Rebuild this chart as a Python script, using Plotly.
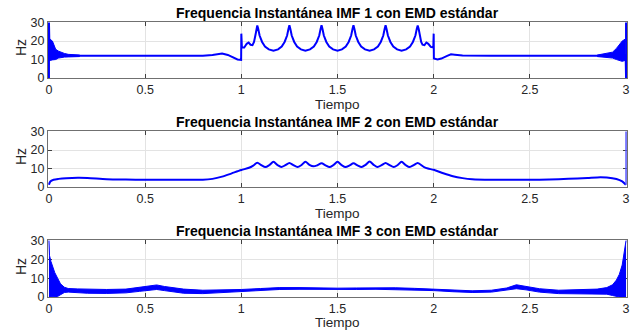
import plotly.graph_objects as go

# ---------------- data ----------------
x_ticks = [0, 0.5, 1, 1.5, 2, 2.5, 3]
x_tick_labels = ["0", "0.5", "1", "1.5", "2", "2.5", "3"]
y_ticks = [0, 10, 20, 30]
y_tick_labels = ["0", "10", "20", "30"]

titles = ["Frequencia Instantánea IMF 1 con EMD estándar",
          "Frequencia Instantánea IMF 2 con EMD estándar",
          "Frequencia Instantánea IMF 3 con EMD estándar"]

# IMF 1 main line
imf1_t = [0.000, 0.000, 0.003, 0.020, 0.050, 0.100, 0.200, 0.300, 0.400, 0.500, 0.600, 0.700, 0.800,
          0.850, 0.900, 0.930, 0.960, 0.980, 0.999, 1.000, 1.003, 1.015, 1.028, 1.038, 1.048, 1.058,
          1.066, 1.073, 1.078, 1.083, 1.088, 1.095, 1.108, 1.123, 1.143, 1.167, 1.191, 1.210, 1.225,
          1.238, 1.245, 1.250, 1.255, 1.262, 1.275, 1.290, 1.310, 1.333, 1.357, 1.377, 1.392, 1.405,
          1.412, 1.417, 1.422, 1.429, 1.442, 1.457, 1.477, 1.500, 1.523, 1.543, 1.558, 1.571, 1.578,
          1.583, 1.588, 1.595, 1.608, 1.623, 1.643, 1.667, 1.690, 1.710, 1.725, 1.738, 1.745, 1.750,
          1.755, 1.762, 1.775, 1.790, 1.810, 1.833, 1.857, 1.877, 1.892, 1.905, 1.912, 1.917, 1.922,
          1.928, 1.935, 1.942, 1.952, 1.962, 1.972, 1.985, 1.998, 2.000, 2.001, 2.020, 2.040, 2.070,
          2.090, 2.110, 2.150, 2.300, 2.500, 2.700, 2.850, 2.900, 2.950, 2.998, 3.000, 3.000]
imf1_f = [0.0, 30.0, 14.0, 13.0, 12.4, 12.0, 12.0, 11.9, 12.0, 12.0, 11.9, 12.0, 12.1,
          12.4, 13.2, 12.5, 10.8, 10.0, 9.8, 24.0, 16.5, 16.5, 18.5, 19.2, 18.0, 17.8,
          19.5, 23.0, 26.5, 28.4, 26.5, 23.0, 19.5, 17.0, 15.5, 14.8, 15.5, 17.0, 19.5,
          23.0, 26.5, 28.6, 26.5, 23.0, 19.5, 17.0, 15.5, 14.8, 15.5, 17.0, 19.5, 23.0,
          26.5, 28.6, 26.5, 23.0, 19.5, 17.0, 15.5, 14.8, 15.5, 17.0, 19.5, 23.0, 26.5,
          28.6, 26.5, 23.0, 19.5, 17.0, 15.5, 14.8, 15.5, 17.0, 19.5, 23.0, 26.5, 28.6,
          26.5, 23.0, 19.5, 17.0, 15.5, 14.8, 15.5, 17.0, 19.5, 23.0, 26.5, 28.4, 26.5,
          23.0, 19.5, 18.0, 17.8, 19.2, 18.5, 16.8, 16.5, 24.0, 10.5, 10.0, 10.5, 12.0,
          12.8, 12.6, 12.2, 12.0, 12.0, 12.0, 12.1, 12.3, 12.0, 12.0, 0.0, 30.0]

# IMF 1 oscillation envelopes at the edges
imf1_band_left_t = [0.000, 0.005, 0.018, 0.035, 0.050, 0.065, 0.080, 0.100, 0.130, 0.160]
imf1_band_left_hi = [22.0, 21.0, 20.0, 15.5, 14.5, 13.8, 13.3, 12.8, 12.6, 12.4]
imf1_band_left_lo = [9.0, 9.5, 9.8, 10.0, 10.8, 11.2, 11.3, 11.4, 11.5, 11.6]
imf1_band_right_t = [2.850, 2.900, 2.930, 2.950, 2.965, 2.980, 2.995]
imf1_band_right_hi = [12.4, 13.3, 14.0, 16.0, 18.0, 20.0, 21.0]
imf1_band_right_lo = [11.6, 11.2, 10.8, 10.0, 9.5, 9.0, 9.5]

# IMF 2 main line
imf2_t = [0.000, 0.007, 0.024, 0.050, 0.090, 0.150, 0.200, 0.300, 0.400, 0.500, 0.600, 0.700, 0.800,
          0.850, 0.900, 0.950, 1.000, 1.040, 1.062, 1.083, 1.104, 1.125, 1.146, 1.167, 1.188, 1.208,
          1.229, 1.250, 1.271, 1.292, 1.313, 1.333, 1.354, 1.375, 1.396, 1.417, 1.438, 1.458, 1.479,
          1.500, 1.521, 1.542, 1.563, 1.583, 1.604, 1.625, 1.646, 1.667, 1.688, 1.708, 1.729, 1.750,
          1.771, 1.792, 1.813, 1.833, 1.854, 1.875, 1.896, 1.917, 1.950, 1.970, 2.000, 2.050, 2.100,
          2.150, 2.200, 2.300, 2.400, 2.500, 2.600, 2.700, 2.800, 2.850, 2.900, 2.950, 2.980, 2.999]
imf2_f = [1.2, 3.0, 3.9, 4.4, 4.8, 5.0, 4.9, 4.2, 4.0, 3.9, 3.9, 3.9, 3.9,
          4.4, 5.6, 7.4, 9.2, 10.4, 11.6, 13.1, 11.8, 10.8, 11.9, 13.6, 11.9, 10.8,
          11.8, 13.0, 11.8, 10.8, 11.9, 13.6, 12.0, 11.2, 11.8, 12.8, 11.7, 10.8, 11.9,
          13.6, 11.9, 10.8, 11.7, 12.8, 11.7, 10.8, 12.0, 13.8, 12.0, 10.8, 11.8, 13.0,
          11.8, 10.8, 11.9, 13.6, 11.9, 10.8, 11.8, 13.0, 10.8, 10.0, 9.3, 7.4, 5.8,
          4.8, 4.2, 3.9, 3.9, 3.9, 4.1, 4.4, 4.9, 5.2, 5.1, 4.3, 3.0, 1.2]
# thin end spike of IMF 2 at t = 3
imf2_end_t = [3.000, 3.000]
imf2_end_f = [1.2, 30.0]

# IMF 3 oscillation envelope
imf3_t = [0.000, 0.003, 0.010, 0.020, 0.030, 0.045, 0.060, 0.080, 0.100, 0.150, 0.200, 0.300,
          0.400, 0.470, 0.530, 0.560, 0.600, 0.650, 0.700, 0.800, 0.900, 1.000, 1.100, 1.200,
          1.300, 1.400, 1.500, 1.600, 1.700, 1.800, 1.900, 2.000, 2.100, 2.200, 2.300, 2.380,
          2.430, 2.480, 2.550, 2.650, 2.750, 2.850, 2.900, 2.930, 2.950, 2.965, 2.980, 2.990,
          3.000]
imf3_hi = [30.0, 22.0, 19.0, 16.0, 13.0, 10.0, 7.0, 5.2, 4.5, 4.3, 4.2, 4.0,
           4.2, 5.0, 6.0, 6.4, 5.6, 4.8, 4.2, 3.6, 3.6, 4.0, 4.5, 5.0,
           5.0, 4.8, 4.7, 4.8, 5.0, 4.9, 4.6, 4.2, 3.6, 3.3, 3.6, 4.8,
           6.5, 5.6, 4.4, 3.6, 3.8, 4.2, 5.0, 6.5, 9.0, 12.0, 17.0, 23.0,
           30.0]
imf3_lo = [0.0, 0.0, 0.0, 0.0, 0.0, 0.3, 1.2, 2.4, 2.6, 2.3, 2.0, 1.9,
           2.2, 3.0, 3.8, 4.0, 3.4, 2.6, 2.0, 1.8, 2.4, 3.0, 3.6, 4.0,
           4.1, 4.0, 3.9, 4.0, 4.1, 4.0, 3.8, 3.4, 2.8, 2.4, 2.6, 3.5,
           4.4, 3.8, 2.6, 1.8, 1.8, 1.8, 1.5, 0.8, 0.3, 0.0, 0.0, 0.0,
           0.0]

# ---------------- figure ----------------
W, H = 634, 330
BLUE = "#0000ff"
FONT = "Liberation Sans, Arial, sans-serif"

AX_L, AX_R, AX_T, AX_B = 48, 627, 22, 297      # plot area in pixels
ML, MR, MT, MB = AX_L, W - AX_R, AX_T, H - AX_B
PW, PH = AX_R - AX_L, AX_B - AX_T
rows_px = [(22, 78), (131, 187), (240, 297)]   # top, bottom of each axes box
title_px = [13, 121.5, 231]
xlabel_px = [104.5, 213.5, 322]
ylabel_px = [48, 157, 267]


def py(ypx):
    return (AX_B - ypx) / PH


def px(xpx):
    return (xpx - AX_L) / PW


fig = go.Figure()


def band(t, hi, lo, xa, ya):
    fig.add_trace(go.Scatter(x=t, y=hi, mode="lines", line=dict(color=BLUE, width=1),
                             xaxis=xa, yaxis=ya, hoverinfo="skip", showlegend=False))
    fig.add_trace(go.Scatter(x=t, y=lo, mode="lines", line=dict(color=BLUE, width=1),
                             fill="tonexty", fillcolor=BLUE,
                             xaxis=xa, yaxis=ya, hoverinfo="skip", showlegend=False))


band(imf1_band_left_t, imf1_band_left_hi, imf1_band_left_lo, "x", "y")
band(imf1_band_right_t, imf1_band_right_hi, imf1_band_right_lo, "x", "y")
fig.add_trace(go.Scatter(x=imf1_t, y=imf1_f, mode="lines", line=dict(color=BLUE, width=2),
                         xaxis="x", yaxis="y", hoverinfo="skip", showlegend=False))
fig.add_trace(go.Scatter(x=imf2_t, y=imf2_f, mode="lines",
                         line=dict(color=BLUE, width=2, shape="spline", smoothing=0.8),
                         xaxis="x2", yaxis="y2", hoverinfo="skip", showlegend=False))
fig.add_trace(go.Scatter(x=imf2_end_t, y=imf2_end_f, mode="lines",
                         line=dict(color="#5555ff", width=1.5),
                         xaxis="x2", yaxis="y2", hoverinfo="skip", showlegend=False))
band(imf3_t, imf3_hi, imf3_lo, "x3", "y3")

axis_common = dict(showgrid=True, gridcolor="#e3e3e3", gridwidth=1, zeroline=False,
                   showline=True, linecolor="#707070", linewidth=1, mirror="ticks",
                   ticks="inside", ticklen=4, tickcolor="#404040", tickwidth=1,
                   tickfont=dict(family=FONT, size=12.5, color="#262626"),
                   layer="below traces", fixedrange=True, automargin=False,
                   ticklabeloverflow="allow")

layout = dict(width=W, height=H, margin=dict(l=ML, r=MR, t=MT, b=MB, pad=0, autoexpand=False),
              paper_bgcolor="white", plot_bgcolor="white", showlegend=False,
              annotations=[])

for i, (top, bot) in enumerate(rows_px):
    sfx = "" if i == 0 else str(i + 1)
    layout["xaxis" + sfx] = dict(axis_common, domain=[0, 1], range=[-0.005, 3.005],
                                 tickvals=x_ticks, ticktext=x_tick_labels,
                                 anchor="y" + sfx)
    layout["yaxis" + sfx] = dict(axis_common, domain=[py(bot), py(top)],
                                 range=[0, 30.3], tickvals=y_ticks, ticktext=y_tick_labels,
                                 anchor="x" + sfx)
    layout["annotations"].append(dict(text="<b>" + titles[i] + "</b>", x=0.5, y=py(title_px[i]),
                                      xref="paper", yref="paper", showarrow=False,
                                      xanchor="center", yanchor="middle",
                                      font=dict(family=FONT, size=14, color="black")))
    layout["annotations"].append(dict(text="Tiempo", x=0.5, y=py(xlabel_px[i]),
                                      xref="paper", yref="paper", showarrow=False,
                                      xanchor="center", yanchor="middle",
                                      font=dict(family=FONT, size=13.5, color="#262626")))
    layout["annotations"].append(dict(text="Hz", x=px(21), y=py(ylabel_px[i]),
                                      xref="paper", yref="paper", showarrow=False,
                                      xanchor="center", yanchor="middle", textangle=-90,
                                      font=dict(family=FONT, size=14, color="#262626")))

fig.update_layout(**layout)
# remove the browser's default 8px page margin so the 634x330 figure fills the window
fig.write_html("out.html", config={"displayModeBar": False, "staticPlot": True},
               post_script="document.body.style.margin='0px';document.body.style.overflow='hidden';")
